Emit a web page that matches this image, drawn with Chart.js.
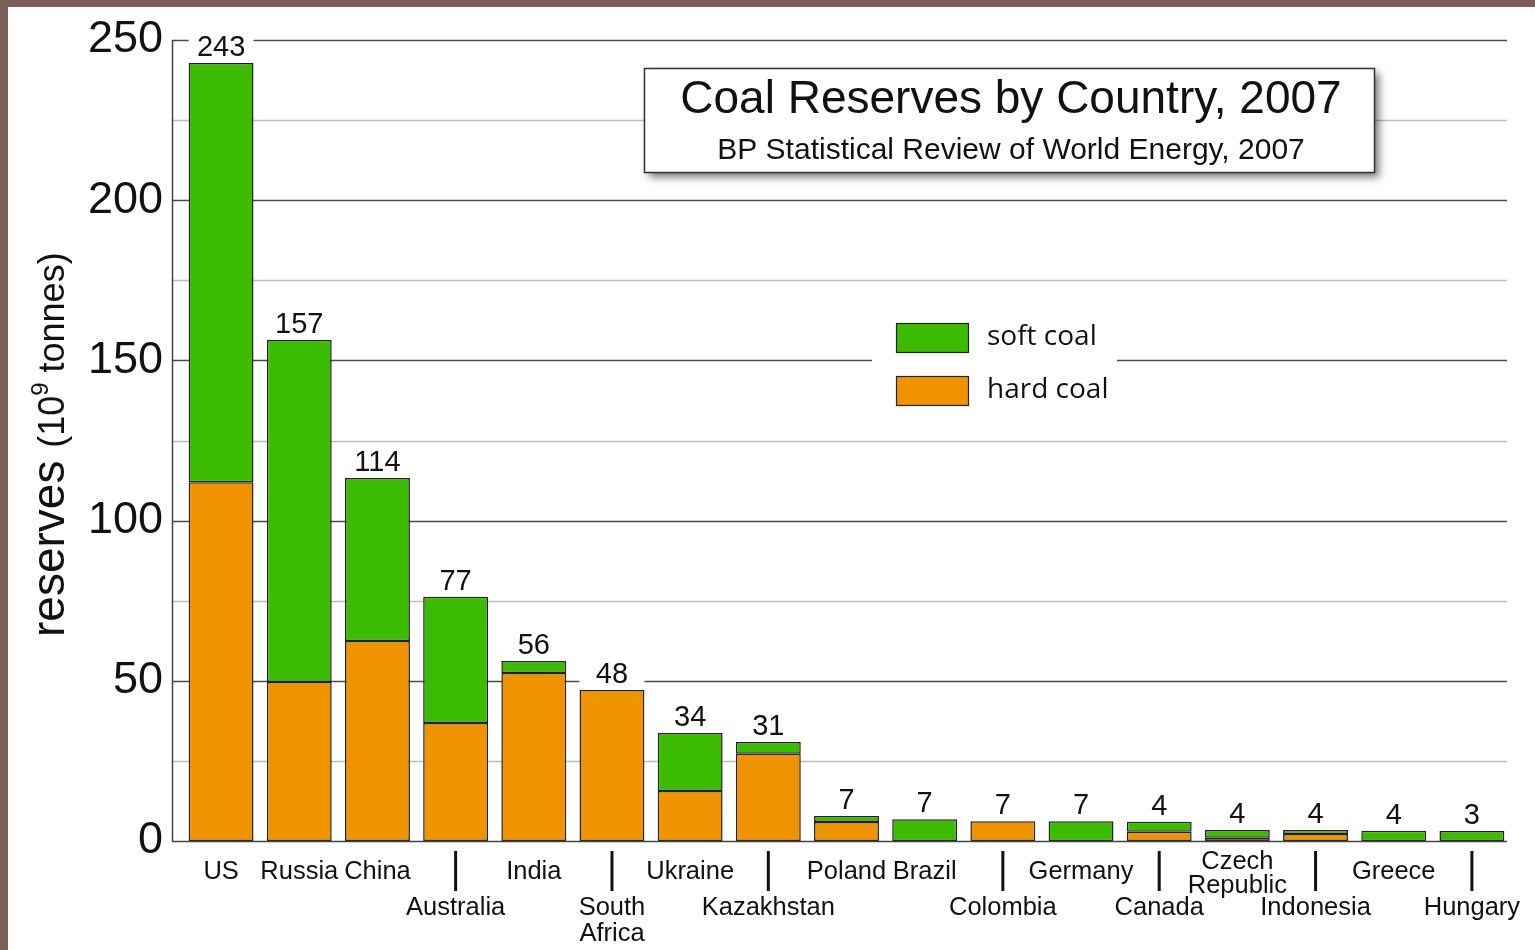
<!DOCTYPE html>
<html>
<head>
<meta charset="utf-8">
<title>Coal Reserves by Country, 2007</title>
<script src="https://cdn.jsdelivr.net/npm/chart.js@4.4.1/dist/chart.umd.min.js"></script>
<style>
    html, body { margin: 0; padding: 0; background: #fff; }
    #wrap { position: relative; width: 1535px; height: 950px; }
</style>
</head>
<body>
<div id="wrap"><canvas id="coalChart"></canvas></div>
<script>
// Data (10^9 tonnes)
const countries = [['US'], ['Russia'], ['China'], ['Australia'], ['India'], ['South', 'Africa'], ['Ukraine'], ['Kazakhstan'],
    ['Poland'], ['Brazil'], ['Colombia'], ['Germany'], ['Canada'], ['Czech', 'Republic'], ['Indonesia'], ['Greece'], ['Hungary']];
const hardCoal = [112, 49.6, 62.4, 36.8, 52.4, 47.1, 15.6, 27.2, 5.9, 0, 6.2, 0, 2.9, 1.0, 2.2, 0, 0];
const softCoal = [130.8, 106.8, 50.9, 39.4, 3.8, 0, 18.1, 3.7, 1.9, 6.8, 0, 6.2, 3.1, 2.4, 1.2, 3.2, 3.1];
const totalLabels = ['243', '157', '114', '77', '56', '48', '34', '31', '7', '7', '7', '7', '4', '4', '4', '4', '3'];
const lowerRow = [false, false, false, true, false, true, false, true, false, false, true, false, true, false, true, false, true];
const yMax = 250;
const yLabelStep = 50;
const yGridStep = 25;

const GREEN = '#3cbc00';
const ORANGE = '#f09300';
const EDGE = '#222';
const SANS = '"Liberation Sans", Arial, sans-serif';

const decor = {
    id: 'decor',
    beforeDraw(chart) {
        const { ctx } = chart;
        ctx.save();
        ctx.fillStyle = '#7b5e55';
        ctx.fillRect(0, 0, chart.width, chart.height);
        ctx.fillStyle = '#fff';
        ctx.fillRect(8, 7, chart.width - 8, chart.height - 7);
        ctx.restore();
    },
    beforeDatasetsDraw(chart) {
        const { ctx, chartArea, scales: { y } } = chart;
        const left = chartArea.left - 10;
        const right = chartArea.right - 4;
        ctx.save();
        for (let v = yGridStep; v <= yMax; v += yGridStep) {
            const py = Math.round(y.getPixelForValue(v)) + 0.5;
            ctx.strokeStyle = v % yLabelStep === 0 ? '#4a4a4a' : '#bdbdbd';
            ctx.lineWidth = 1.3;
            ctx.beginPath();
            ctx.moveTo(left, py);
            ctx.lineTo(right, py);
            ctx.stroke();
        }
        ctx.restore();
    },
    afterDatasetsDraw(chart) {
        const { ctx, chartArea, scales: { x, y } } = chart;
        const left = chartArea.left - 10;
        const right = chartArea.right - 4;
        const y0 = Math.round(y.getPixelForValue(0)) + 0.5;
        ctx.save();

        // axes
        ctx.strokeStyle = '#444';
        ctx.lineWidth = 1.5;
        ctx.beginPath();
        ctx.moveTo(left + 0.5, y.getPixelForValue(yMax));
        ctx.lineTo(left + 0.5, y0);
        ctx.lineTo(right, y0);
        ctx.stroke();

        // totals above the bars
        const topMeta = chart.getDatasetMeta(1);
        ctx.font = '29px ' + SANS;
        ctx.textAlign = 'center';
        ctx.textBaseline = 'alphabetic';
        totalLabels.forEach((txt, i) => {
            const cx = x.getPixelForValue(i);
            const top = y.getPixelForValue(hardCoal[i] + softCoal[i]);
            const w = topMeta.data[i].width;
            ctx.fillStyle = '#fff';
            ctx.fillRect(cx - w / 2, top - 34, w, 31);
            ctx.fillStyle = '#111';
            ctx.fillText(txt, cx, top - 7);
        });

        // category labels, staggered in two rows
        ctx.font = '25.5px ' + SANS;
        chart.data.labels.forEach((lines, i) => {
            const cx = x.getPixelForValue(i);
            let base = lowerRow[i] ? 915 : 879;
            if (lines.length > 1 && !lowerRow[i]) base = 869;
            const lh = lowerRow[i] ? 26 : 24;
            ctx.fillStyle = '#111';
            lines.forEach((ln, k) => ctx.fillText(ln, cx, base + k * lh));
            if (lowerRow[i]) {
                ctx.strokeStyle = '#111';
                ctx.lineWidth = 3;
                ctx.beginPath();
                ctx.moveTo(cx, 851);
                ctx.lineTo(cx, 891);
                ctx.stroke();
            }
        });
        ctx.restore();
    },
    afterDraw(chart) {
        const { ctx } = chart;
        ctx.save();

        // y axis title with superscript
        ctx.translate(64, 637);
        ctx.rotate(-Math.PI / 2);
        ctx.fillStyle = '#111';
        ctx.textAlign = 'left';
        ctx.textBaseline = 'alphabetic';
        let px = 0;
        const parts = [
            { t: 'reserves ', f: '46px ' + SANS, dy: 0 },
            { t: '(10', f: '36px ' + SANS, dy: 0 },
            { t: '9', f: '24px ' + SANS, dy: -16 },
            { t: ' tonnes)', f: '36px ' + SANS, dy: 0 }
        ];
        parts.forEach(p => {
            ctx.font = p.f;
            ctx.fillText(p.t, px, p.dy);
            px += ctx.measureText(p.t).width;
        });
        ctx.setTransform(1, 0, 0, 1, 0, 0);

        // title box
        const bx = 644, by = 68, bw = 730, bh = 104;
        ctx.save();
        ctx.shadowColor = 'rgba(0,0,0,0.55)';
        ctx.shadowBlur = 8;
        ctx.shadowOffsetX = 5;
        ctx.shadowOffsetY = 5;
        ctx.fillStyle = '#fff';
        ctx.fillRect(bx, by, bw, bh);
        ctx.restore();
        ctx.strokeStyle = '#333';
        ctx.lineWidth = 1.5;
        ctx.strokeRect(bx + 0.5, by + 0.5, bw, bh);
        ctx.fillStyle = '#111';
        ctx.textAlign = 'center';
        ctx.font = '46px ' + SANS;
        ctx.fillText('Coal Reserves by Country, 2007', bx + bw / 2 + 2, by + 45);
        ctx.font = '30px ' + SANS;
        ctx.fillText('BP Statistical Review of World Energy, 2007', bx + bw / 2 + 2, by + 91);

        // legend
        ctx.fillStyle = '#fff';
        ctx.fillRect(872, 312, 245, 106);
        const items = chart.data.datasets.slice().reverse();
        ctx.textAlign = 'left';
        ctx.textBaseline = 'middle';
        ctx.font = '28px "Open Sans", sans-serif';
        items.forEach((ds, k) => {
            const sy = 323 + k * 53;
            ctx.fillStyle = ds.backgroundColor;
            ctx.fillRect(896, sy, 72, 29);
            ctx.strokeStyle = EDGE;
            ctx.lineWidth = 1.2;
            ctx.strokeRect(896.5, sy + 0.5, 72, 29);
            ctx.fillStyle = '#111';
            ctx.fillText(ds.label, 987, sy + 14);
        });
        ctx.restore();
    }
};

new Chart(document.getElementById('coalChart'), {
    type: 'bar',
    data: {
        labels: countries,
        datasets: [
            {
                label: 'hard coal',
                data: hardCoal,
                backgroundColor: ORANGE,
                borderColor: EDGE,
                borderWidth: 1.5,
                borderSkipped: false
            },
            {
                label: 'soft coal',
                data: softCoal,
                backgroundColor: GREEN,
                borderColor: EDGE,
                borderWidth: 1.5,
                borderSkipped: false
            }
        ]
    },
    options: {
        responsive: true,
        maintainAspectRatio: false,
        animation: false,
        devicePixelRatio: 1,
        layout: { padding: { left: 0, top: 40, right: 24, bottom: 109 } },
        datasets: { bar: { barPercentage: 0.83, categoryPercentage: 1 } },
        plugins: {
            legend: { display: false },
            tooltip: { enabled: false },
            title: { display: false }
        },
        scales: {
            x: {
                stacked: true,
                display: false
            },
            y: {
                stacked: true,
                min: 0,
                max: yMax,
                afterFit: scale => {
                    scale.width = 182;
                    scale.paddingTop = 0;
                    scale.paddingBottom = 0;
                },
                grid: { display: false, drawTicks: false },
                border: { display: false },
                ticks: {
                    stepSize: yLabelStep,
                    padding: 19,
                    color: '#111',
                    font: { family: SANS, size: 45 }
                }
            }
        }
    },
    plugins: [decor]
});
</script>
</body>
</html>
